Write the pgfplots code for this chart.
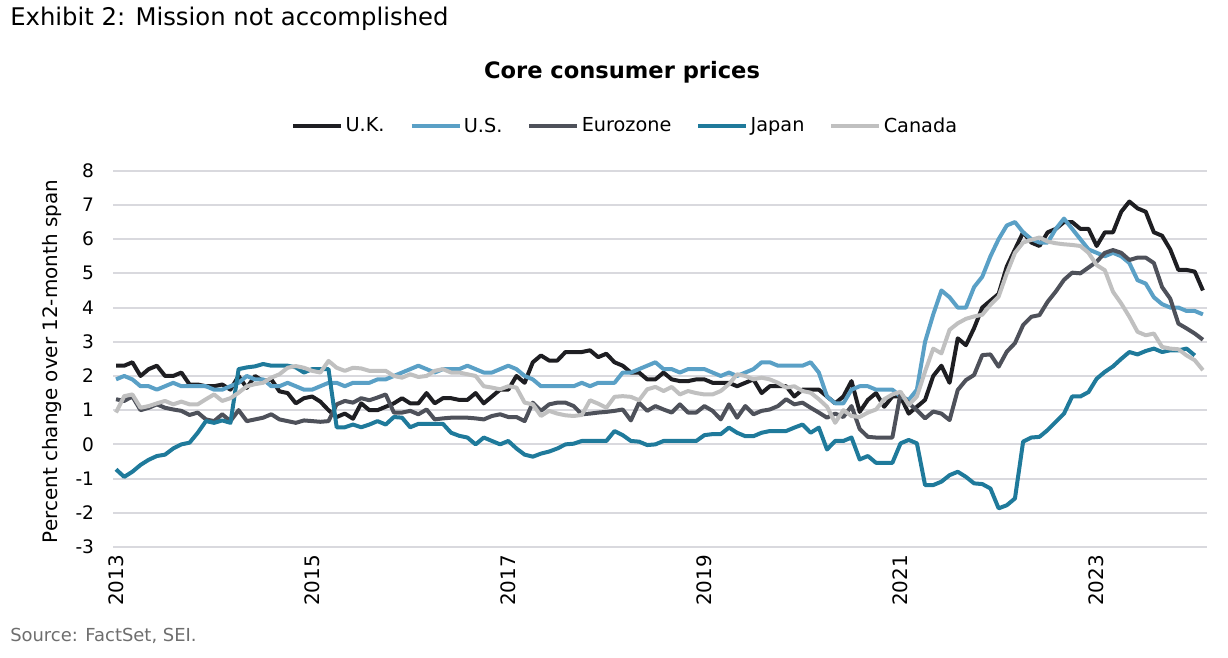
\documentclass[border=0pt]{standalone}
\usepackage{fontspec}
\setmainfont{DejaVu Sans}
\usepackage{pgfplots}
\usepackage{pgfplotstable}
\pgfplotsset{compat=1.18}
\definecolor{cuk}{RGB}{30,30,34}
\definecolor{cus}{RGB}{90,160,198}
\definecolor{cez}{RGB}{78,81,90}
\definecolor{cjp}{RGB}{31,122,155}
\definecolor{cca}{RGB}{192,192,192}
\definecolor{gridc}{RGB}{217,217,222}
\definecolor{srcc}{RGB}{110,110,110}
\pgfplotstableread{
i uk us ez jp ca
0 2.3 1.9 1.32 -0.73 0.93
1 2.3 2.0 1.27 -0.95 1.41
2 2.4 1.9 1.4 -0.8 1.46
3 2.0 1.7 1.0 -0.6 1.07
4 2.2 1.7 1.07 -0.45 1.12
5 2.3 1.6 1.17 -0.34 1.2
6 2.0 1.7 1.07 -0.3 1.27
7 2.0 1.8 1.02 -0.12 1.17
8 2.1 1.7 0.98 0.0 1.25
9 1.75 1.7 0.86 0.05 1.17
10 1.75 1.7 0.93 0.34 1.17
11 1.7 1.7 0.73 0.68 1.32
12 1.7 1.6 0.68 0.63 1.46
13 1.75 1.6 0.88 0.7 1.27
14 1.6 1.7 0.68 0.63 1.35
15 2.0 1.8 1.0 2.2 1.51
16 1.65 2.0 0.68 2.25 1.7
17 2.0 1.9 0.73 2.28 1.76
18 1.85 1.9 0.78 2.35 1.8
19 1.9 1.7 0.88 2.3 1.95
20 1.55 1.7 0.73 2.3 2.05
21 1.5 1.8 0.68 2.3 2.24
22 1.2 1.7 0.63 2.25 2.29
23 1.35 1.6 0.7 2.1 2.24
24 1.4 1.6 0.68 2.2 2.15
25 1.25 1.7 0.66 2.2 2.1
26 1.0 1.8 0.68 2.2 2.44
27 0.8 1.8 1.17 0.5 2.24
28 0.9 1.7 1.27 0.5 2.15
29 0.75 1.8 1.22 0.58 2.24
30 1.2 1.8 1.35 0.5 2.22
31 1.0 1.8 1.29 0.58 2.15
32 1.0 1.9 1.37 0.68 2.15
33 1.1 1.9 1.46 0.58 2.15
34 1.2 2.0 0.93 0.8 2.0
35 1.35 2.1 0.93 0.78 1.95
36 1.2 2.2 0.98 0.5 2.05
37 1.2 2.3 0.88 0.6 1.97
38 1.5 2.2 1.02 0.6 2.0
39 1.2 2.1 0.73 0.6 2.15
40 1.35 2.2 0.76 0.6 2.2
41 1.35 2.2 0.78 0.34 2.1
42 1.3 2.2 0.78 0.25 2.1
43 1.3 2.3 0.78 0.2 2.05
44 1.5 2.2 0.76 0.0 2.0
45 1.2 2.1 0.73 0.2 1.7
46 1.4 2.1 0.83 0.1 1.66
47 1.6 2.2 0.88 0.0 1.61
48 1.6 2.3 0.8 0.1 1.7
49 2.0 2.2 0.8 -0.12 1.66
50 1.8 2.0 0.68 -0.3 1.22
51 2.4 1.9 1.22 -0.36 1.17
52 2.6 1.7 0.98 -0.27 0.83
53 2.45 1.7 1.17 -0.21 0.98
54 2.45 1.7 1.22 -0.12 0.9
55 2.7 1.7 1.22 0.0 0.85
56 2.7 1.7 1.12 0.02 0.83
57 2.7 1.8 0.88 0.1 0.86
58 2.75 1.7 0.9 0.1 1.29
59 2.55 1.8 0.93 0.1 1.19
60 2.65 1.8 0.95 0.1 1.07
61 2.4 1.8 0.98 0.39 1.39
62 2.3 2.1 1.02 0.27 1.41
63 2.1 2.1 0.7 0.1 1.39
64 2.1 2.2 1.22 0.08 1.29
65 1.9 2.3 0.98 -0.02 1.61
66 1.9 2.4 1.12 0.0 1.68
67 2.1 2.2 1.02 0.1 1.56
68 1.9 2.2 0.93 0.1 1.68
69 1.85 2.1 1.17 0.1 1.46
70 1.85 2.2 0.93 0.1 1.56
71 1.9 2.2 0.93 0.1 1.5
72 1.9 2.2 1.12 0.27 1.46
73 1.8 2.1 0.98 0.3 1.46
74 1.8 2.0 0.73 0.3 1.56
75 1.8 2.1 1.17 0.49 1.76
76 1.7 2.0 0.78 0.34 2.05
77 1.8 2.1 1.12 0.24 2.0
78 1.9 2.2 0.88 0.24 1.9
79 1.5 2.4 0.98 0.34 1.95
80 1.7 2.4 1.02 0.39 1.9
81 1.7 2.3 1.12 0.39 1.8
82 1.7 2.3 1.32 0.39 1.66
83 1.4 2.3 1.17 0.49 1.7
84 1.6 2.3 1.22 0.58 1.56
85 1.6 2.4 1.07 0.34 1.51
86 1.6 2.1 0.93 0.49 1.32
87 1.4 1.4 0.78 -0.15 1.1
88 1.2 1.2 0.9 0.1 0.63
89 1.4 1.2 0.8 0.1 1.0
90 1.85 1.6 1.12 0.2 0.83
91 0.95 1.7 0.45 -0.44 0.8
92 1.3 1.7 0.22 -0.34 0.93
93 1.5 1.6 0.2 -0.54 1.02
94 1.1 1.6 0.2 -0.54 1.32
95 1.4 1.6 0.2 -0.54 1.46
96 1.4 1.4 1.5 0.03 1.54
97 0.9 1.3 1.2 0.13 1.15
98 1.1 1.6 1.0 0.03 1.4
99 1.3 3.0 0.76 -1.19 2.13
100 2.0 3.8 0.96 -1.19 2.8
101 2.3 4.5 0.9 -1.09 2.66
102 1.8 4.3 0.71 -0.9 3.35
103 3.1 4.0 1.59 -0.8 3.54
104 2.9 4.0 1.88 -0.95 3.67
105 3.4 4.6 2.03 -1.14 3.74
106 4.0 4.9 2.61 -1.16 3.79
107 4.2 5.5 2.63 -1.29 4.08
108 4.4 6.0 2.27 -1.87 4.32
109 5.2 6.4 2.71 -1.78 5.0
110 5.7 6.5 2.96 -1.58 5.6
111 6.2 6.2 3.49 0.08 5.9
112 5.9 6.0 3.73 0.2 5.98
113 5.8 5.9 3.78 0.22 6.05
114 6.2 5.9 4.17 0.42 5.93
115 6.3 6.3 4.47 0.66 5.88
116 6.5 6.6 4.81 0.9 5.85
117 6.5 6.3 5.02 1.4 5.83
118 6.3 6.0 5.0 1.4 5.8
119 6.3 5.7 5.17 1.53 5.6
120 5.8 5.6 5.34 1.92 5.24
121 6.2 5.5 5.6 2.12 5.09
122 6.2 5.6 5.68 2.28 4.46
123 6.8 5.5 5.6 2.5 4.12
124 7.1 5.3 5.39 2.7 3.73
125 6.9 4.8 5.46 2.63 3.29
126 6.8 4.7 5.46 2.73 3.19
127 6.2 4.3 5.3 2.8 3.24
128 6.1 4.1 4.6 2.7 2.85
129 5.7 4.0 4.26 2.75 2.8
130 5.1 4.0 3.53 2.75 2.78
131 5.1 3.9 3.39 2.8 2.6
132 5.05 3.9 3.24 2.6 2.46
133 4.5 3.8 3.06 nan 2.17
}\data
\begin{document}
\begin{tikzpicture}
\path[use as bounding box] (0,0) rectangle (921bp,493.5bp);
\begin{axis}[
  at={(84.75bp,83.25bp)}, anchor=south west,
  scale only axis, width=820.5bp, height=282.2bp,
  xmin=-0.37, xmax=133.5, ymin=-3, ymax=8,
  ytick={-3,-2,...,8},
  xtick={0,24,48,72,96,120},
  xticklabels={2013,2015,2017,2019,2021,2023},
  /pgf/number format/assume math mode=true,
  ymajorgrids, grid style={color=gridc, line width=1.5bp},
  axis line style={draw=none},
  major tick length=0pt,
  tick label style={font=\fontsize{14}{16}\selectfont},
  x tick label style={rotate=90, anchor=east, inner sep=0pt, font=\fontsize{15}{16}\selectfont},
  y tick label style={anchor=east, inner sep=0pt},
  xticklabel shift=6bp,
  yticklabel shift=14bp,
  ylabel={Percent change over 12-month span},
  ylabel style={at={(axis description cs:-0.0558,0.493)}, anchor=center, font=\fontsize{15}{17}\selectfont},
  legend columns=5,
  legend style={at={(0.468,1.119)}, anchor=center, draw=none, fill=none,
    font=\fontsize{14.5}{16}\selectfont,
    /tikz/every even column/.append style={column sep=17bp},
    nodes={inner xsep=1.5bp, inner ysep=1bp}},
  legend image code/.code={\draw[#1, line width=3.5bp] (0bp,0bp) -- (36bp,0bp);},
  every axis plot/.append style={line width=3bp, line join=round, mark=none},
]
\addplot[cuk] table[x=i, y=uk]{\data};
\addlegendentry{U.K.}
\addplot[cus] table[x=i, y=us]{\data};
\addlegendentry{U.S.}
\addplot[cez] table[x=i, y=ez]{\data};
\addlegendentry{Eurozone}
\addplot[cjp] table[x=i, y=jp]{\data};
\addlegendentry{Japan}
\addplot[cca] table[x=i, y=ca]{\data};
\addlegendentry{Canada}
\end{axis}
\begin{scope}[x=0.75bp, y=-0.75bp, yshift=493.5bp]
\node[anchor=west, inner sep=0pt] at (10,19) {\fontsize{18.3}{21}\selectfont Exhibit 2: Mission not accomplished};
\node[inner sep=0pt] at (622,72) {\fontsize{17}{19}\selectfont\bfseries Core consumer prices};
\node[anchor=west, inner sep=0pt, text=srcc] at (10,636) {\fontsize{13.5}{15}\selectfont Source: FactSet, SEI.};
\end{scope}
\end{tikzpicture}
\end{document}
